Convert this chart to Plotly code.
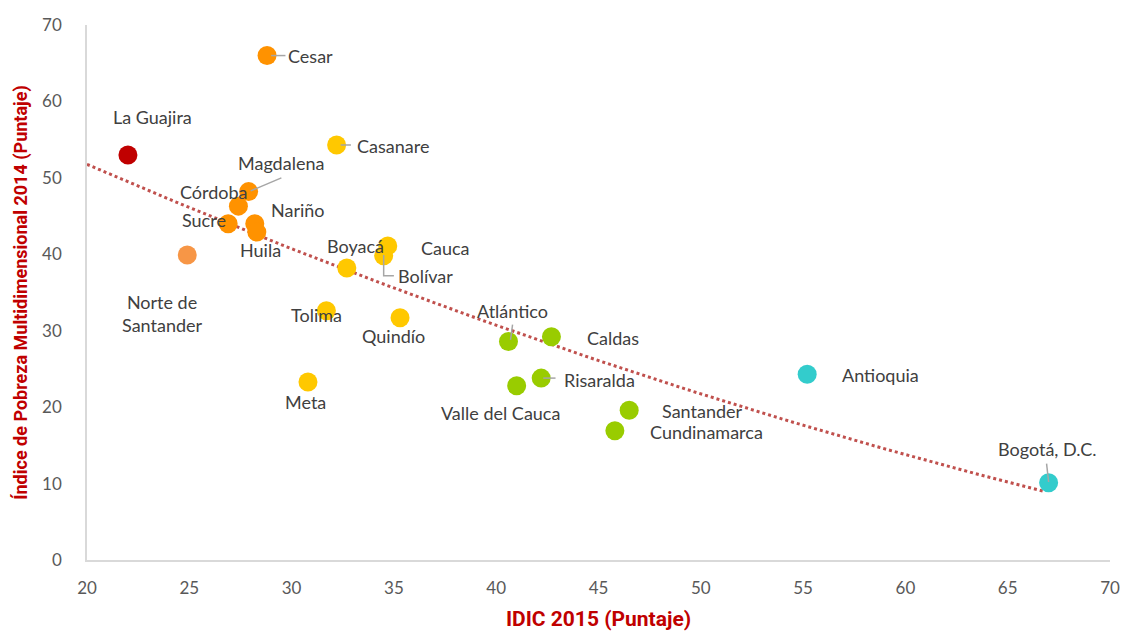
import numpy as np
import plotly.graph_objects as go

# IDIC 2015 (x) vs IPM 2014 (y), por departamento
departamentos = ["La Guajira", "Cesar", "Magdalena", "Córdoba", "Sucre", "Nariño", "Huila",
                 "Norte de Santander", "Casanare", "Cauca", "Bolívar", "Boyacá", "Tolima",
                 "Quindío", "Meta", "Atlántico", "Caldas", "Valle del Cauca", "Risaralda",
                 "Santander", "Cundinamarca", "Antioquia", "Bogotá, D.C."]
idic = [22.0, 28.8, 27.9, 27.4, 26.9, 28.2, 28.3,
        24.9, 32.2, 34.7, 34.5, 32.7, 31.7,
        35.3, 30.8, 40.6, 42.7, 41.0, 42.2,
        46.5, 45.8, 55.2, 67.0]
ipm = [53.0, 66.0, 48.2, 46.3, 44.0, 44.0, 42.9,
       39.9, 54.3, 41.1, 39.8, 38.2, 32.6,
       31.7, 23.3, 28.6, 29.2, 22.8, 23.8,
       19.6, 16.9, 24.3, 10.1]
grupo = ["rojo", "naranja", "naranja", "naranja", "naranja", "naranja", "naranja",
         "salmon", "amarillo", "amarillo", "amarillo", "amarillo", "amarillo",
         "amarillo", "amarillo", "verde", "verde", "verde", "verde",
         "verde", "verde", "cian", "cian"]

# puntos leídos sobre la línea de tendencia del gráfico original
tendencia_x = [20.0, 28.5, 32.6, 42.7, 54.0, 66.8]
tendencia_y = [52.0, 41.9, 38.0, 28.4, 18.5, 8.9]

colores = {"rojo": "#C00000", "naranja": "#FF9200", "salmon": "#F79646",
           "amarillo": "#FFC800", "verde": "#99CC00", "cian": "#33CCCC"}

# posiciones de las etiquetas (texto, x, y, anclaje)
etiquetas = [
    ("La Guajira", 23.2, 57.9, "center"), ("Cesar", 29.75, 66.0, "left"),
    ("Casanare", 33.1, 54.2, "left"), ("Magdalena", 29.5, 52.0, "center"),
    ("Córdoba", 26.2, 48.2, "center"), ("Nariño", 30.3, 45.8, "center"),
    ("Sucre", 25.7, 44.5, "center"), ("Huila", 28.5, 40.6, "center"),
    ("Norte de<br>Santander", 23.7, 32.2, "center"), ("Boyacá", 33.1, 41.1, "center"),
    ("Cauca", 37.5, 40.8, "center"), ("Bolívar", 35.1, 37.2, "left"),
    ("Tolima", 31.2, 32.1, "center"), ("Quindío", 35.0, 29.3, "center"),
    ("Meta", 30.7, 20.7, "center"), ("Atlántico", 40.8, 32.6, "center"),
    ("Caldas", 45.7, 29.1, "center"), ("Valle del Cauca", 40.2, 19.2, "center"),
    ("Risaralda", 43.2, 23.6, "left"), ("Santander", 50.1, 19.5, "center"),
    ("Cundinamarca", 50.3, 16.8, "center"), ("Antioquia", 58.8, 24.2, "center"),
    ("Bogotá, D.C.", 66.9, 14.5, "center"),
]

# líneas guía de etiquetas
guias = [
    [(29.0, 66.0), (29.7, 66.0)],
    [(32.4, 54.3), (32.9, 54.3)],
    [(28.0, 48.3), (29.5, 50.0)],
    [(34.5, 39.9), (34.5, 37.2), (35.0, 37.2)],
    [(40.8, 30.8), (40.7, 28.8)],
    [(42.3, 23.8), (42.9, 23.8)],
    [(66.9, 12.6), (67.0, 10.2)],
]

fig = go.Figure()

# tendencia (polinómica de orden 2 ajustada a los puntos leídos)
coef = np.polyfit(tendencia_x, tendencia_y, 2)
tx = np.linspace(tendencia_x[0], tendencia_x[-1], 100)
fig.add_trace(go.Scatter(x=tx, y=np.polyval(coef, tx), mode="lines",
                         line=dict(color="#C0504D", width=3, dash="dot"),
                         hoverinfo="skip", showlegend=False))

for g, c in colores.items():
    idx = [i for i, v in enumerate(grupo) if v == g]
    fig.add_trace(go.Scatter(
        x=[idic[i] for i in idx], y=[ipm[i] for i in idx],
        text=[departamentos[i] for i in idx], mode="markers",
        marker=dict(color=c, size=19, line=dict(width=0)),
        hovertemplate="%{text}<br>IDIC: %{x}<br>IPM: %{y}<extra></extra>",
        showlegend=False))

for pts in guias:
    fig.add_trace(go.Scatter(x=[p[0] for p in pts], y=[p[1] for p in pts], mode="lines",
                             line=dict(color="#A6A6A6", width=1.5),
                             hoverinfo="skip", showlegend=False))

for txt, x, y, anc in etiquetas:
    fig.add_annotation(x=x, y=y, text=txt, showarrow=False, xanchor=anc,
                       font=dict(size=18, color="#404040", family="Lato"))

fig.update_layout(
    width=1128, height=635,
    margin=dict(l=87, r=18, t=25, b=75),
    plot_bgcolor="white", paper_bgcolor="white",
    font=dict(family="Lato", color="#595959", size=17),
    xaxis=dict(range=[20, 70], dtick=5, showgrid=False, zeroline=False,
               showline=True, linecolor="#D9D9D9", linewidth=1.5,
               ticks="", ticklabelstandoff=12, automargin=False,
               tickfont=dict(size=17, color="#595959"),
               title=dict(text="<b>IDIC 2015 (Puntaje)</b>", standoff=14,
                          font=dict(size=21, color="#C00000", family="Roboto"))),
    yaxis=dict(range=[0, 70], dtick=10, showgrid=False, zeroline=False,
               showline=True, linecolor="#D9D9D9", linewidth=1.5,
               ticks="", ticklabelstandoff=20, automargin=False,
               tickfont=dict(size=17, color="#595959"),
               title=dict(text="<b>Índice de Pobreza Multidimensional 2014 (Puntaje)</b>", standoff=10,
                          font=dict(size=18, color="#C00000", family="Roboto"))),
)

fig.write_html("out.html", config={"displayModeBar": False},
               post_script="document.body.style.margin='0';")
